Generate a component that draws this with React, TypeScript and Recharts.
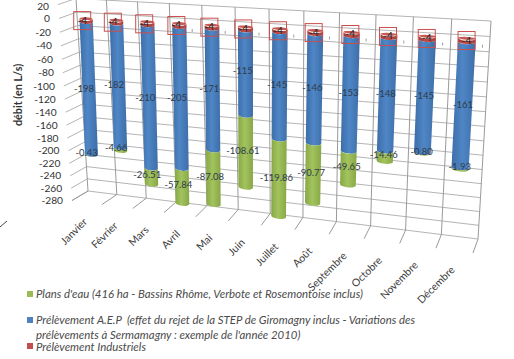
import React from "react";
import { Bar, BarChart, CartesianGrid, LabelList, XAxis, YAxis } from "recharts";

const months = ["Janvier", "Février", "Mars", "Avril", "Mai", "Juin", "Juillet", "Août", "Septembre", "Octobre", "Novembre", "Décembre"];
const industriel = [-4, -4, -4, -4, -4, -4, -4, -4, -4, -4, -4, -4];
const aep = [-198, -182, -210, -205, -171, -115, -145, -146, -153, -148, -145, -161];
const plansEau = [-0.43, -4.66, -26.51, -57.84, -87.08, -108.61, -119.86, -90.77, -49.65, -14.46, -0.8, -1.93];
const yTicks = [20, 0, -20, -40, -60, -80, -100, -120, -140, -160, -180, -200, -220, -240, -260, -280];

const data = months.map((mois, i) => ({ mois, industriel: industriel[i], aep: aep[i], plansEau: plansEau[i] }));

const W = 514;
const H = 359;
// the axes need 1px each or Recharts drops their ticks
const AXIS_PAD = 1;
const FONT = "Lato, 'Open Sans', sans-serif";

type Pt = [number, number];

// Projective map from the flat plot rectangle onto a quad (TL, TR, BR, BL).
// bow adds a little extra foreshortening towards the floor.
const makePlane = ([p0, p1, p2, p3]: Pt[], bow = 0) => {
    const dx1 = p1[0] - p2[0];
    const dx2 = p3[0] - p2[0];
    const sx = p0[0] - p1[0] + p2[0] - p3[0];
    const dy1 = p1[1] - p2[1];
    const dy2 = p3[1] - p2[1];
    const sy = p0[1] - p1[1] + p2[1] - p3[1];
    const den = dx1 * dy2 - dx2 * dy1;
    const g = (sx * dy2 - dx2 * sy) / den;
    const h = (dx1 * sy - sx * dy1) / den;
    const a = p1[0] - p0[0] + g * p1[0];
    const b = p3[0] - p0[0] + h * p3[0];
    const d = p1[1] - p0[1] + g * p1[1];
    const e = p3[1] - p0[1] + h * p3[1];
    return (x: number, y: number): Pt => {
        const u = (x - AXIS_PAD) / W;
        const t = y / H;
        const v = t + bow * t * (1 - t);
        const w = g * u + h * v + 1;
        return [(a * u + b * v + p0[0]) / w, (d * u + e * v + p0[1]) / w];
    };
};

const backWall = makePlane([[76, -1.5], [491, 21], [478, 239], [88, 191]]);
const frontPlane = makePlane([[58, 4.6], [487, 36], [473, 253], [72, 200.5]]);
const barPlane = makePlane([[70.5, 3], [488, 22], [475, 248], [79, 198]], 0.1);

const GRID_H = "#b4b4b4";
const GRID_V = "#9a9a9a";

const seg = (a: Pt, b: Pt, stroke: string, key?: string) => (
    <line key={key} x1={a[0]} y1={a[1]} x2={b[0]} y2={b[1]} stroke={stroke} strokeWidth={1} />
);

// Horizontal grid: back wall line plus its continuation on the left wall
const horizontalLine = (props: any) => {
    const y = props.y1;
    return (
        <g key={`h-${y}`}>
            {seg(backWall(AXIS_PAD, y), backWall(W + AXIS_PAD, y), GRID_H)}
            {seg(backWall(AXIS_PAD, y), frontPlane(AXIS_PAD, y), GRID_H)}
        </g>
    );
};

// Vertical grid: back wall line plus its continuation on the floor
const verticalLine = (props: any) => {
    const x = props.x1;
    return (
        <g key={`v-${x}`}>
            {seg(backWall(x, 0), backWall(x, H), GRID_V)}
            {seg(backWall(x, H), frontPlane(x, H), GRID_V)}
        </g>
    );
};

const CylinderSegment = (props: any) => {
    const { x, y, width, height, gradient, cap, index } = props;
    const top = Math.min(y, y + height);
    const bottom = Math.max(y, y + height);
    const tl = barPlane(x, top);
    const tr = barPlane(x + width, top);
    const br = barPlane(x + width, bottom);
    const bl = barPlane(x, bottom);
    const rx = (br[0] - bl[0]) / 2;
    const rotB = (Math.atan2(br[1] - bl[1], br[0] - bl[0]) * 180) / Math.PI;
    const rotT = (Math.atan2(tr[1] - tl[1], tr[0] - tl[0]) * 180) / Math.PI;
    const ry = 2.4;
    const d = `M ${tl[0]},${tl[1]} L ${bl[0]},${bl[1]} A ${rx},${ry} ${rotB} 0 0 ${br[0]},${br[1]} L ${tr[0]},${tr[1]} A ${rx},${ry} ${rotT} 0 1 ${tl[0]},${tl[1]} Z`;
    const mark = barPlane(x + width / 2 + 17, top + 10);
    return (
        <g>
            <path d={d} fill={`url(#${gradient})`} />
            {cap && (
                <ellipse
                    cx={(tl[0] + tr[0]) / 2}
                    cy={(tl[1] + tr[1]) / 2}
                    rx={rx}
                    ry={1.4}
                    transform={`rotate(${rotT} ${(tl[0] + tr[0]) / 2} ${(tl[1] + tr[1]) / 2})`}
                    fill={cap}
                />
            )}
            {cap && index >= 3 && seg([mark[0], mark[1] - 1.5], [mark[0], mark[1] + 1.5], "#a0a0a0")}
        </g>
    );
};

const formatValue = (v: number) => (Number.isInteger(v) ? String(v) : v.toFixed(2));

const ValueLabel = (props: any) => {
    const { x, y, width, height, value, lift } = props;
    const [px, py] = barPlane(x + width / 2, y + height / 2);
    const shift = -5 * (1 - x / W);
    return (
        <text x={px + shift} y={py - lift} dy="0.35em" textAnchor="middle" fontFamily={FONT} fontSize={9.5} fill="#2f3b4a">
            {formatValue(value)}
        </text>
    );
};

// The -4 labels sit in a red outlined box
const BoxedLabel = (props: any) => {
    const { x, y, width, height, value } = props;
    const [px, py] = barPlane(x + width / 2, y + height / 2);
    const shift = -4 * (1 - x / W);
    return (
        <g>
            <rect x={px + shift - 8.5} y={py - 8.5} width={17} height={18} fill="none" stroke="#cb4f4c" strokeWidth={1} />
            <text x={px + shift} y={py} dy="0.35em" textAnchor="middle" fontFamily={FONT} fontSize={10} fill="#222">
                {value}
            </text>
        </g>
    );
};

const YTick = (props: any) => {
    const { y, payload } = props;
    const [px, py] = frontPlane(AXIS_PAD, y);
    return (
        <text x={px - 9} y={Math.max(py, 6.5)} dy="0.35em" textAnchor="end" fontFamily={FONT} fontSize={10.2} fill="#333">
            {payload.value}
        </text>
    );
};

const XTick = (props: any) => {
    const { x, payload } = props;
    const [px, py] = frontPlane(x, H);
    const ax = px + 1;
    const ay = py + 20;
    return (
        <text x={ax} y={ay} textAnchor="end" transform={`rotate(-45 ${ax} ${ay})`} fontFamily={FONT} fontSize={10.5} fill="#3d3d3d">
            {payload.value}
        </text>
    );
};

const cylinderGradient = (id: string, edge: string, mid: string) => (
    <linearGradient id={id} x1="0" y1="0" x2="1" y2="0">
        <stop offset="0%" stopColor={edge} />
        <stop offset="45%" stopColor={mid} />
        <stop offset="100%" stopColor={edge} />
    </linearGradient>
);

const legendStyle: React.CSSProperties = {
    position: "absolute",
    left: 36,
    fontFamily: FONT,
    fontStyle: "italic",
    fontSize: 11.4,
    lineHeight: "15px",
    color: "#4a4a4a",
    whiteSpace: "pre",
};

const swatch = (top: number, color: string) => (
    <div style={{ position: "absolute", left: 27, top, width: 6, height: 6, background: color }} />
);

export default function App() {
    return (
        <div style={{ position: "absolute", left: 0, top: 0, width: W, height: H, background: "#fff", overflow: "hidden" }}>
            <BarChart
                width={W + AXIS_PAD}
                height={H + AXIS_PAD}
                data={data}
                margin={{ top: 0, right: 0, bottom: 0, left: 0 }}
                barCategoryGap="28%"
            >
                <defs>
                    {cylinderGradient("cylRed", "#a03c3a", "#c04d4a")}
                    {cylinderGradient("cylBlue", "#3d6ea8", "#4f86c6")}
                    {cylinderGradient("cylGreen", "#86a844", "#a3c35f")}
                </defs>
                <CartesianGrid
                    horizontal={horizontalLine}
                    vertical={verticalLine}
                    verticalCoordinatesGenerator={({ offset }: any) =>
                        [...months, ""].map((_, i) => offset.left + (i * offset.width) / months.length)
                    }
                />
                <XAxis dataKey="mois" height={AXIS_PAD} interval={0} axisLine={false} tickLine={false} tick={XTick} />
                <YAxis
                    width={AXIS_PAD}
                    domain={[-280, 20]}
                    ticks={yTicks}
                    interval={0}
                    axisLine={false}
                    tickLine={false}
                    tick={YTick}
                />
                <Bar
                    dataKey="industriel"
                    stackId="debit"
                    isAnimationActive={false}
                    shape={(p: any) => <CylinderSegment {...p} gradient="cylRed" cap="#c85a56" />}
                >
                    <LabelList dataKey="industriel" content={BoxedLabel} />
                </Bar>
                <Bar
                    dataKey="aep"
                    stackId="debit"
                    isAnimationActive={false}
                    shape={(p: any) => <CylinderSegment {...p} gradient="cylBlue" />}
                >
                    <LabelList dataKey="aep" content={(p: any) => <ValueLabel {...p} lift={3} />} />
                </Bar>
                <Bar
                    dataKey="plansEau"
                    stackId="debit"
                    isAnimationActive={false}
                    shape={(p: any) => <CylinderSegment {...p} gradient="cylGreen" />}
                >
                    <LabelList dataKey="plansEau" content={(p: any) => <ValueLabel {...p} lift={1.5} />} />
                </Bar>
                <text
                    x={17}
                    y={95}
                    transform="rotate(-90 17 95)"
                    textAnchor="middle"
                    dominantBaseline="central"
                    fontFamily={FONT}
                    fontSize={10.8}
                    fontWeight={700}
                    fill="#333"
                >
                    débit (en L/s)
                </text>
                <line x1={0} y1={227} x2={7} y2={221} stroke="#444" strokeWidth={1} />
            </BarChart>

            {swatch(291, "#9bbb59")}
            <div style={{ ...legendStyle, top: 286 }}>Plans d'eau (416 ha - Bassins Rhôme, Verbote et Rosemontoise inclus)</div>
            {swatch(317, "#4f81bd")}
            <div style={{ ...legendStyle, top: 312 }}>
                {"Prélèvement A.E.P  (effet du rejet de la STEP de Giromagny inclus - Variations des\nprélèvements à Sermamagny : exemple de l'année 2010)"}
            </div>
            {swatch(343, "#c0504d")}
            <div style={{ ...legendStyle, top: 339 }}>Prélèvement Industriels</div>
        </div>
    );
}
